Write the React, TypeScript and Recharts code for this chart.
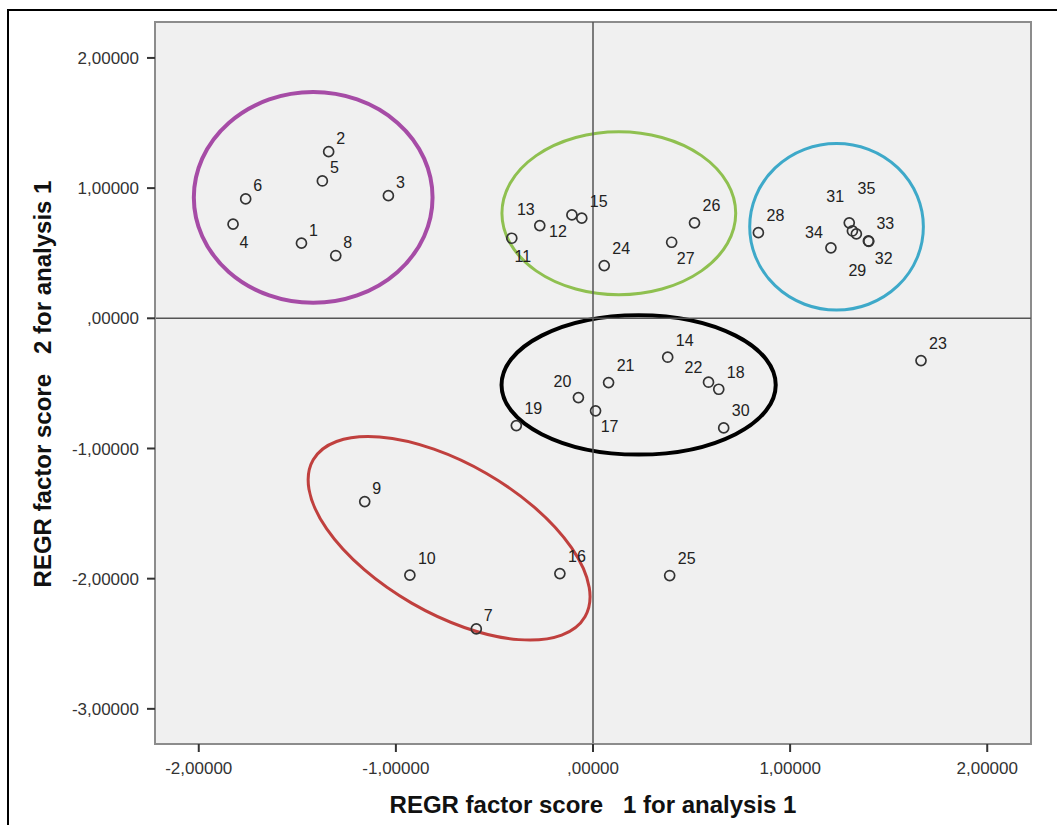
import React from 'react';
import {
  ScatterChart,
  Scatter,
  XAxis,
  YAxis,
  ReferenceArea,
  ReferenceLine,
} from 'recharts';

// ---- data ----
const caseIds = [
  1, 2, 3, 4, 5, 6, 7, 8, 9, 10, 11, 12, 13, 14, 15, 16, 17, 18,
  19, 20, 21, 22, 23, 24, 25, 26, 27, 28, 29, 30, 31, 32, 33, 34, 35,
];
const factorScore1 = [
  -1.479, -1.341, -1.038, -1.826, -1.373, -1.762, -0.592, -1.305, -1.158, -0.929,
  -0.412, -0.107, -0.27, 0.379, -0.057, -0.168, 0.013, 0.638, -0.389, -0.074,
  0.079, 0.586, 1.664, 0.057, 0.389, 0.515, 0.399, 0.839, 1.336, 0.663,
  1.3, 1.399, 1.397, 1.207, 1.316,
];
const factorScore2 = [
  0.577, 1.28, 0.942, 0.723, 1.055, 0.917, -2.386, 0.482, -1.408, -1.973,
  0.615, 0.794, 0.712, -0.299, 0.769, -1.961, -0.711, -0.545, -0.824, -0.609,
  -0.494, -0.491, -0.325, 0.405, -1.976, 0.733, 0.584, 0.658, 0.648, -0.842,
  0.733, 0.591, 0.594, 0.541, 0.671,
];
const xTicks = [-2, -1, 0, 1, 2];
const yTicks = [-3, -2, -1, 0, 1, 2];
const xDomain: [number, number] = [-2.222, 2.222];
const yDomain: [number, number] = [-3.27, 2.276];

// cluster outlines (data-space bounding boxes) and colors
const clusterNames = ['purple', 'green', 'blue', 'black', 'red'];
const clusterX1 = [-2.025, -0.462, 0.795, -0.464, -1.526];
const clusterX2 = [-0.814, 0.724, 1.676, 0.927, 0.066];
const clusterY1 = [1.738, 1.433, 1.343, 0.024, -1.115];
const clusterY2 = [0.119, 0.181, 0.063, -1.047, -2.265];
const clusterRotation = [0, 0, 0, 0, 30];
const clusterColors = ['#a64ca6', '#8fc050', '#3ea9c9', '#000000', '#c0403e'];
const clusterWidths = [4, 3, 3, 4, 3];

// label placement relative to point (pixel offsets, style only)
const labelOffsets: Record<number, [number, number]> = {
  4: [11, 18],
  11: [11, 18],
  12: [-14, 17],
  13: [-14, -16],
  17: [14, 16],
  20: [-16, -16],
  22: [-15, -15],
  27: [14, 16],
  29: [1, 37],
  31: [-14, -26],
  32: [15, 17],
  34: [-17, -15],
  35: [14, -42],
};

const points = caseIds.map((id, i) => ({
  id,
  x: factorScore1[i],
  y: factorScore2[i],
}));

const fmt = (v: number) => {
  const s = Math.abs(v).toFixed(5).replace('.', ',');
  const t = s.startsWith('0') ? s.slice(1) : s;
  return (v < 0 ? '-' : '') + t;
};

const FONT = '"Liberation Sans", Arial, sans-serif';

const PointShape = (props: any) => {
  const { cx, cy, payload } = props;
  if (cx == null || cy == null) return null;
  const id = payload.id as number;
  const def: [number, number] = id >= 10 ? [17, -17] : [12, -13];
  const [dx, dy] = labelOffsets[id] || def;
  return (
    <g>
      <circle cx={cx} cy={cy} r={5} fill="none" stroke="#333" strokeWidth={1.7} />
      <text
        x={cx + dx}
        y={cy + dy}
        textAnchor="middle"
        dominantBaseline="central"
        fontSize={16}
        fontFamily={FONT}
        fill="#222"
      >
        {id}
      </text>
    </g>
  );
};

const makeEllipse = (color: string, width: number, rot: number) => (props: any) => {
  const { x, y, width: w, height: h } = props;
  if (x == null) return null;
  const cx = x + w / 2;
  const cy = y + h / 2;
  return (
    <ellipse
      cx={cx}
      cy={cy}
      rx={Math.abs(w) / 2}
      ry={Math.abs(h) / 2}
      fill="none"
      stroke={color}
      strokeWidth={width}
      transform={rot ? `rotate(${rot} ${cx} ${cy})` : undefined}
    />
  );
};

const XTitle = (props: any) => {
  const vb = props.viewBox || { x: 147, y: 736, width: 876, height: 81 };
  return (
    <text
      x={vb.x + vb.width / 2}
      y={vb.y + 69}
      textAnchor="middle"
      fontSize={24}
      fontWeight="bold"
      fontFamily={FONT}
      fill="#111"
      xmlSpace="preserve"
      style={{ whiteSpace: 'pre' }}
    >
      {'REGR factor score   1 for analysis 1'}
    </text>
  );
};

const YTitle = (props: any) => {
  const vb = props.viewBox || { x: 0, y: 14, width: 147, height: 722 };
  const cx = 34;
  const cy = vb.y + vb.height / 2 + 1;
  return (
    <text
      x={cx}
      y={cy}
      textAnchor="middle"
      dominantBaseline="central"
      fontSize={24}
      fontWeight="bold"
      fontFamily={FONT}
      fill="#111"
      transform={`rotate(-90 ${cx} ${cy})`}
      xmlSpace="preserve"
      style={{ whiteSpace: 'pre' }}
    >
      {'REGR factor score   2 for analysis 1'}
    </text>
  );
};

export default function App() {
  return (
    <div
      style={{
        position: 'absolute',
        left: 0,
        top: 0,
        width: 1057,
        height: 825,
        overflow: 'hidden',
        background: '#fff',
      }}
    >
      <div
        style={{
          position: 'absolute',
          left: 7,
          top: 9,
          width: 1100,
          height: 900,
          borderTop: '2px solid #000',
          borderLeft: '2px solid #000',
        }}
      />
      <div style={{ position: 'absolute', left: 8, top: 8 }}>
        <ScatterChart
          width={1049}
          height={817}
          margin={{ top: 14, right: 26, bottom: 0, left: 0 }}
        >
          <XAxis
            type="number"
            dataKey="x"
            domain={xDomain}
            ticks={xTicks}
            allowDataOverflow
            height={81}
            tickFormatter={fmt}
            tickSize={8}
            tickMargin={10}
            tick={{ fontSize: 17, fill: '#333', fontFamily: FONT }}
            tickLine={{ stroke: '#333', strokeWidth: 2 }}
            axisLine={{ stroke: '#8c8c8c', strokeWidth: 2 }}
            label={{ content: XTitle }}
          />
          <YAxis
            type="number"
            dataKey="y"
            domain={yDomain}
            ticks={yTicks}
            allowDataOverflow
            width={147}
            tickFormatter={fmt}
            tickSize={8}
            tickMargin={8}
            tick={{ fontSize: 17, fill: '#333', fontFamily: FONT }}
            tickLine={{ stroke: '#333', strokeWidth: 2 }}
            axisLine={{ stroke: '#8c8c8c', strokeWidth: 2 }}
            label={{ content: YTitle }}
          />
          <ReferenceArea
            x1={xDomain[0]}
            x2={xDomain[1]}
            y1={yDomain[0]}
            y2={yDomain[1]}
            fill="#f0f0f0"
            fillOpacity={1}
            stroke="#8c8c8c"
            strokeWidth={2}
            ifOverflow="visible"
          />
          <ReferenceLine x={0} stroke="#555" strokeWidth={1.5} />
          <ReferenceLine y={0} stroke="#555" strokeWidth={1.5} />
          {clusterNames.map((name, i) => (
            <ReferenceArea
              key={name}
              x1={clusterX1[i]}
              x2={clusterX2[i]}
              y1={clusterY1[i]}
              y2={clusterY2[i]}
              ifOverflow="visible"
              shape={makeEllipse(clusterColors[i], clusterWidths[i], clusterRotation[i])}
            />
          ))}
          <Scatter data={points} isAnimationActive={false} shape={PointShape} />
        </ScatterChart>
      </div>
    </div>
  );
}
